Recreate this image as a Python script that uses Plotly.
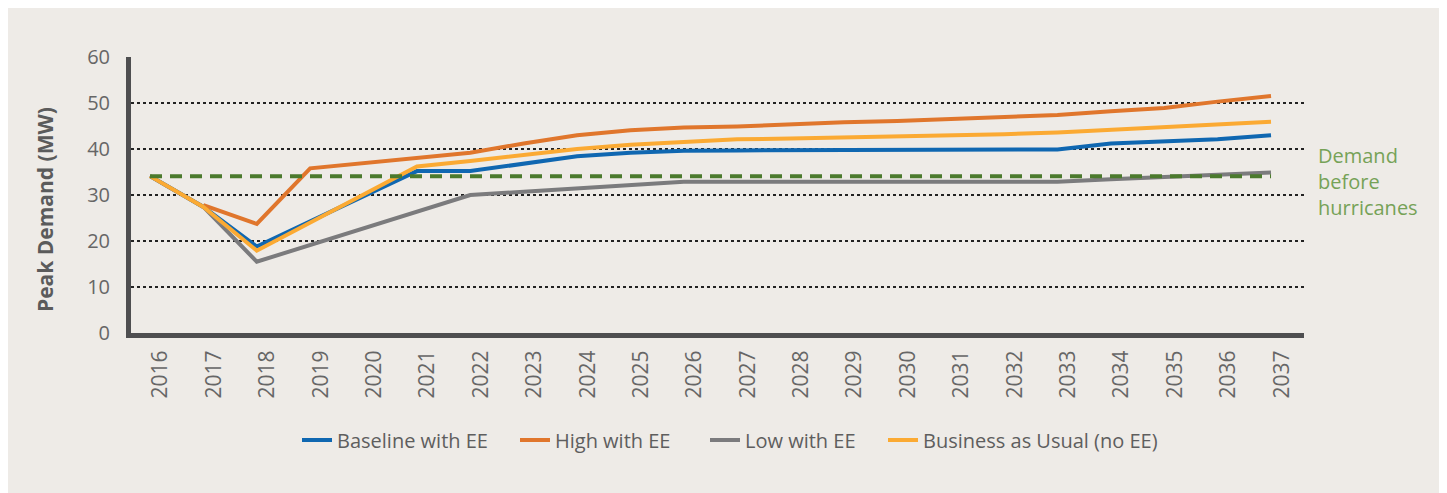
import plotly.graph_objects as go

years = list(range(2016, 2038))
baseline = [34.1, 27.4, 18.8, 24.3, 29.7, 35.2, 35.2, 36.9, 38.4, 39.2, 39.6, 39.7, 39.7, 39.8, 39.8, 39.8, 39.8, 39.9, 41.2, 41.6, 42.1, 43.0]
high = [None, 27.8, 23.7, 35.8, 37.0, 38.0, 39.2, 41.2, 43.0, 44.1, 44.7, 44.9, 45.4, 45.8, 46.1, 46.5, 46.9, 47.4, 48.2, 48.9, 50.3, 51.5]
low = [34.1, 27.4, 15.5, 19.1, 22.7, 26.4, 30.0, 30.7, 31.5, 32.2, 32.9, 32.9, 32.9, 32.9, 32.9, 32.9, 32.9, 32.9, 33.4, 33.9, 34.4, 34.9]
bau = [34.1, 27.4, 17.9, 24.0, 30.1, 36.2, 37.4, 38.6, 40.0, 40.9, 41.6, 42.1, 42.3, 42.5, 42.7, 42.9, 43.2, 43.6, 44.2, 44.8, 45.3, 45.9]
pre_hurricane = [34.1] * len(years)
y_ticks = [0, 10, 20, 30, 40, 50, 60]

FONT = "Open Sans"
BG = "#EEEBE7"
OFF = 8                      # page body margin
W, H = 1447 - OFF, 493 - OFF
L, R, T, B = 131 - OFF, 143, 57 - OFF, 160
pw, ph = W - L - R, H - T - B


def px_x(a):  # absolute page pixel -> paper x
    return (a - OFF - L) / pw


def px_y(a):  # absolute page pixel -> paper y
    return (T + ph - (a - OFF)) / ph


fig = go.Figure()
series = [
    ("Baseline with EE", baseline, "#0F67B1", "legend", 297),
    ("High with EE", high, "#E0762C", "legend2", 515),
    ("Low with EE", low, "#7B7B7D", "legend3", 705),
    ("Business as Usual (no EE)", bau, "#FBAA33", "legend4", 883),
]
legend_layout = {}
for name, vals, col, lg, lx in series:
    fig.add_trace(go.Scatter(x=years, y=vals, name=name, mode="lines", legend=lg,
                             line=dict(color=col, width=4), connectgaps=False))
    legend_layout[lg] = dict(orientation="h", xref="container", yref="container",
                             x=(lx - OFF) / W, xanchor="left",
                             y=1 - (440 - OFF) / H, yanchor="middle",
                             font=dict(family=FONT, size=20, color="#5E5E5E"),
                             bgcolor="rgba(0,0,0,0)")
fig.add_trace(go.Scatter(x=years, y=pre_hurricane, mode="lines", showlegend=False,
                         line=dict(color="#4B7A2D", width=4, dash="12px,8px")))

# thin white strip on the right edge
fig.add_shape(type="rect", xref="paper", yref="paper", layer="below",
              x0=px_x(1442), x1=px_x(1460), y0=px_y(520), y1=px_y(-20),
              line=dict(width=0), fillcolor="white")

fig.add_annotation(xref="paper", yref="paper", x=px_x(45), xanchor="center",
                   y=px_y(210), yanchor="middle",
                   text="<b>Peak Demand (MW)</b>", textangle=-90, showarrow=False,
                   font=dict(family=FONT, size=21, color="#5B5B5B"))
fig.add_annotation(xref="paper", yref="paper", x=px_x(1316), xanchor="left",
                   y=px_y(181), yanchor="middle", align="left",
                   text="Demand<br>before<br>hurricanes", showarrow=False,
                   font=dict(family=FONT, size=20, color="#76A257"))

fig.update_layout(
    width=W, height=H,
    margin=dict(l=L, r=R, t=T, b=B, pad=0),
    paper_bgcolor=BG, plot_bgcolor="rgba(0,0,0,0)",
    font=dict(family=FONT, color="#666666"),
    showlegend=True,
    **legend_layout,
)
fig.update_xaxes(range=[2015.644, 2037.618], tickvals=[y + 0.2 for y in years],
                 ticktext=[str(y) for y in years], tickangle=-90,
                 tickfont=dict(family=FONT, size=21, color="#666666"),
                 showgrid=False, zeroline=False, showline=True,
                 linecolor="#4E4E50", linewidth=5, ticks="", ticklabelstandoff=4)
fig.update_yaxes(range=[0, 60], tickvals=y_ticks,
                 tickfont=dict(family=FONT, size=20, color="#666666"),
                 showgrid=True, gridcolor="#222222", gridwidth=1.5, griddash="dot",
                 zeroline=False, showline=True, linecolor="#4E4E50", linewidth=5,
                 ticks="", ticklabelstandoff=12)

fig.write_html("out.html")
